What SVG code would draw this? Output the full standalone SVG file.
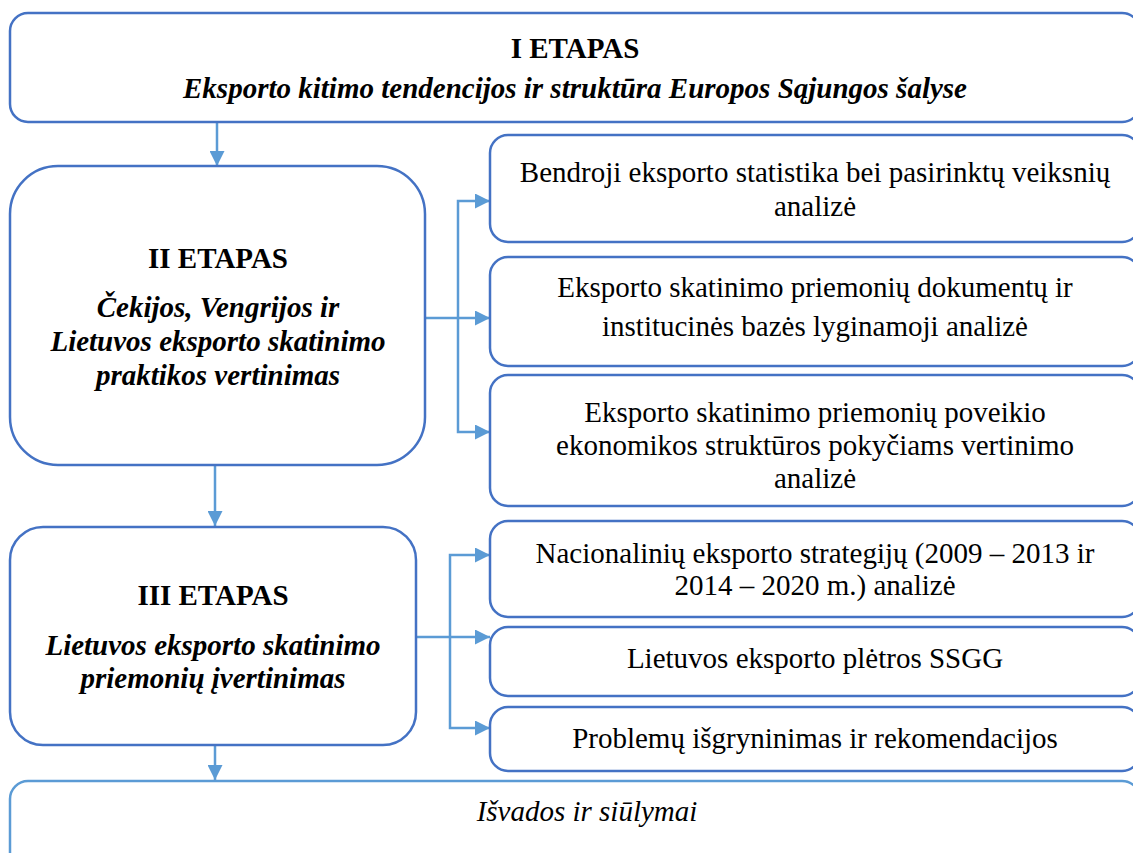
<svg xmlns="http://www.w3.org/2000/svg" width="1133" height="853" viewBox="0 0 1133 853" font-family="'Liberation Serif', 'Times New Roman', serif">
<defs>
<style>
.box{fill:#fff;stroke:#4472C4;stroke-width:2.5}
.box2{fill:#fff;stroke:#5B9BD5;stroke-width:2.5}
.con{fill:none;stroke:#5B9BD5;stroke-width:2.5}
text{font-family:"Liberation Serif","Times New Roman",serif;font-size:29px;fill:#000;text-anchor:middle}
.h{font-weight:bold}
.bi{font-weight:bold;font-style:italic}
.i{font-style:italic}
</style>
<marker id="arr" markerUnits="userSpaceOnUse" markerWidth="15" markerHeight="15" refX="15" refY="7.5" orient="auto">
<path d="M0,0 L15,7.5 L0,15 z" fill="#5B9BD5"/>
</marker>
</defs>
<g id="connectors">
<path class="con" d="M217,122 V166" marker-end="url(#arr)"/>
<path class="con" d="M215,465 V526" marker-end="url(#arr)"/>
<path class="con" d="M215,745 V780" marker-end="url(#arr)"/>
<path class="con" d="M425,318 H490" marker-end="url(#arr)"/>
<path class="con" d="M458,318 V201 H490" marker-end="url(#arr)"/>
<path class="con" d="M458,318 V432 H490" marker-end="url(#arr)"/>
<path class="con" d="M416,637 H490" marker-end="url(#arr)"/>
<path class="con" d="M450,637 V555 H490" marker-end="url(#arr)"/>
<path class="con" d="M450,637 V728 H490" marker-end="url(#arr)"/>
</g>
<g id="etapas1">
<rect class="box" x="10" y="13" width="1130" height="109" rx="18"/>
<text class="h" x="575" y="58">I ETAPAS</text>
<text class="bi" x="575" y="98">Eksporto kitimo tendencijos ir struktūra Europos Sąjungos šalyse</text>
</g>
<g id="etapas2">
<rect class="box" x="10" y="166" width="415" height="299" rx="48"/>
<text class="h" x="218" y="268">II ETAPAS</text>
<text class="bi" x="218" y="317">Čekijos, Vengrijos ir</text>
<text class="bi" x="218" y="351">Lietuvos eksporto skatinimo</text>
<text class="bi" x="218" y="385">praktikos vertinimas</text>
</g>
<g id="etapas3">
<rect class="box" x="10" y="527" width="406" height="218" rx="33"/>
<text class="h" x="213" y="605">III ETAPAS</text>
<text class="bi" x="213" y="655">Lietuvos eksporto skatinimo</text>
<text class="bi" x="213" y="688">priemonių įvertinimas</text>
</g>
<g id="r1">
<rect class="box" x="490" y="135" width="650" height="107" rx="18"/>
<text x="815" y="182">Bendroji eksporto statistika bei pasirinktų veiksnių</text>
<text x="815" y="216">analizė</text>
</g>
<g id="r2">
<rect class="box" x="490" y="257" width="650" height="109" rx="18"/>
<text x="815" y="297">Eksporto skatinimo priemonių dokumentų ir</text>
<text x="815" y="336">institucinės bazės lyginamoji analizė</text>
</g>
<g id="r3">
<rect class="box" x="490" y="375" width="650" height="131" rx="18"/>
<text x="815" y="422">Eksporto skatinimo priemonių poveikio</text>
<text x="815" y="455">ekonomikos struktūros pokyčiams vertinimo</text>
<text x="815" y="488">analizė</text>
</g>
<g id="r4">
<rect class="box" x="490" y="521" width="650" height="96" rx="18"/>
<text x="815" y="563">Nacionalinių eksporto strategijų (2009 – 2013 ir</text>
<text x="815" y="595">2014 – 2020 m.) analizė</text>
</g>
<g id="r5">
<rect class="box" x="490" y="627" width="650" height="69" rx="18"/>
<text x="815" y="668">Lietuvos eksporto plėtros SSGG</text>
</g>
<g id="r6">
<rect class="box" x="490" y="707" width="650" height="64" rx="18"/>
<text x="815" y="748">Problemų išgryninimas ir rekomendacijos</text>
</g>
<g id="isvados">
<rect class="box2" x="10" y="781" width="1130" height="100" rx="18"/>
<text class="i" x="587" y="821">Išvados ir siūlymai</text>
</g>
</svg>
